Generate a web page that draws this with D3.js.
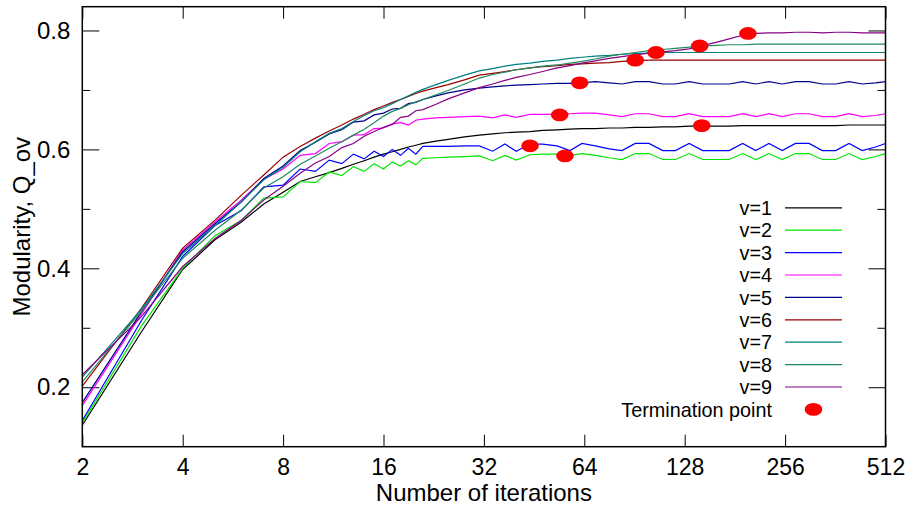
<!DOCTYPE html>
<html>
<head>
<meta charset="utf-8">
<script src="https://cdn.jsdelivr.net/npm/d3@7"></script>
<style>
  html, body { margin: 0; padding: 0; background: #fff; }
  svg text { font-family: "Liberation Sans", Arial, Helvetica, sans-serif; fill: #000; }
</style>
</head>
<body>
<svg id="chart" width="914" height="506"></svg>
<script>
// ---------------- data ----------------
const iterations = [2,3,4,5,6,7,8,9,10,11,
  12,13,14,15,16,17,18,19,20,21,
  23,25,28,31,34,37,40,44,48,53,
  58,63,69,76,83,91,100,110,120,132,
  145,159,174,191,209,229,251,275,302,331,
  363,398,436,478,512];

const seriesNames = ["v=1","v=2","v=3","v=4","v=5","v=6","v=7","v=8","v=9"];

const v1 = [0.136,0.292,0.398,0.448,0.478,0.508,0.528,0.546,0.554,0.561,
  0.568,0.575,0.581,0.587,0.592,0.596,0.600,0.604,0.607,0.610,
  0.614,0.617,0.621,0.624,0.626,0.628,0.629,0.630,0.632,0.633,
  0.634,0.635,0.635,0.636,0.636,0.637,0.637,0.638,0.638,0.639,
  0.639,0.639,0.639,0.640,0.640,0.640,0.640,0.640,0.640,0.640,
  0.640,0.641,0.641,0.641,0.641];
const v2 = [0.140,0.302,0.400,0.455,0.481,0.518,0.520,0.546,0.544,0.562,
  0.556,0.571,0.563,0.576,0.567,0.579,0.572,0.581,0.574,0.585,
  0.586,0.587,0.588,0.589,0.581,0.590,0.582,0.591,0.592,0.592,
  0.590,0.593,0.590,0.586,0.583,0.593,0.593,0.583,0.583,0.593,
  0.583,0.583,0.583,0.593,0.583,0.593,0.583,0.593,0.593,0.583,
  0.583,0.593,0.583,0.588,0.593];
const v3 = [0.144,0.311,0.420,0.472,0.497,0.537,0.540,0.567,0.563,0.582,
  0.576,0.592,0.584,0.597,0.588,0.600,0.590,0.602,0.592,0.605,
  0.605,0.605,0.606,0.606,0.597,0.609,0.597,0.609,0.609,0.606,
  0.598,0.610,0.606,0.601,0.598,0.610,0.610,0.598,0.598,0.610,
  0.598,0.598,0.598,0.610,0.598,0.610,0.598,0.610,0.610,0.598,
  0.598,0.610,0.598,0.604,0.610];
const v4 = [0.169,0.322,0.431,0.478,0.515,0.550,0.567,0.590,0.593,0.610,
  0.613,0.624,0.625,0.635,0.636,0.643,0.645,0.641,0.649,0.651,
  0.653,0.654,0.655,0.656,0.653,0.658,0.654,0.659,0.659,0.659,
  0.660,0.661,0.661,0.658,0.655,0.660,0.660,0.655,0.655,0.660,
  0.655,0.655,0.655,0.660,0.655,0.660,0.655,0.660,0.660,0.655,
  0.655,0.660,0.655,0.657,0.660];
const v5 = [0.174,0.326,0.428,0.475,0.512,0.551,0.572,0.598,0.612,0.626,
  0.633,0.646,0.648,0.658,0.661,0.668,0.669,0.677,0.679,0.684,
  0.690,0.695,0.700,0.703,0.705,0.707,0.708,0.709,0.710,0.711,
  0.711,0.712,0.714,0.712,0.710,0.714,0.714,0.710,0.710,0.714,
  0.710,0.710,0.710,0.714,0.710,0.714,0.710,0.714,0.714,0.710,
  0.710,0.714,0.710,0.712,0.714];
const v6 = [0.202,0.332,0.434,0.481,0.523,0.557,0.587,0.605,0.619,0.631,
  0.641,0.651,0.659,0.667,0.673,0.679,0.684,0.689,0.694,0.698,
  0.704,0.709,0.717,0.725,0.728,0.731,0.734,0.737,0.739,0.741,
  0.743,0.744,0.745,0.746,0.748,0.749,0.750,0.750,0.750,0.750,
  0.750,0.750,0.750,0.750,0.750,0.750,0.750,0.750,0.750,0.750,
  0.750,0.750,0.750,0.750,0.750];
const v7 = [0.217,0.330,0.425,0.472,0.512,0.549,0.570,0.596,0.613,0.627,
  0.635,0.647,0.657,0.665,0.670,0.677,0.684,0.690,0.696,0.701,
  0.709,0.716,0.725,0.732,0.736,0.740,0.743,0.745,0.748,0.750,
  0.753,0.755,0.757,0.758,0.760,0.761,0.762,0.763,0.763,0.763,
  0.763,0.763,0.763,0.763,0.763,0.763,0.763,0.763,0.763,0.763,
  0.763,0.763,0.763,0.763,0.763];
const v8 = [0.209,0.327,0.417,0.464,0.498,0.535,0.554,0.575,0.589,0.602,
  0.613,0.624,0.634,0.645,0.656,0.664,0.669,0.675,0.680,0.684,
  0.692,0.699,0.710,0.720,0.726,0.730,0.734,0.737,0.740,0.742,
  0.745,0.748,0.752,0.757,0.760,0.763,0.766,0.768,0.770,0.772,
  0.774,0.775,0.776,0.776,0.777,0.777,0.777,0.777,0.777,0.777,
  0.777,0.777,0.777,0.777,0.777];
const v9 = [0.221,0.318,0.403,0.450,0.481,0.515,0.538,0.560,0.577,0.588,
  0.603,0.610,0.622,0.630,0.637,0.642,0.654,0.656,0.665,0.667,
  0.676,0.685,0.695,0.704,0.710,0.716,0.721,0.726,0.731,0.737,
  0.741,0.745,0.749,0.753,0.756,0.759,0.762,0.764,0.766,0.769,
  0.775,0.780,0.786,0.792,0.795,0.796,0.796,0.797,0.797,0.796,
  0.797,0.797,0.796,0.796,0.796];

const terminationIter = [144, 56, 44, 54, 62, 91, 105, 142, 198];
const terminationQ    = [0.640, 0.589, 0.606, 0.658, 0.712, 0.750, 0.763, 0.774, 0.795];

const xTickValues = [2,4,8,16,32,64,128,256,512];
const yTickValues = [0.2,0.4,0.6,0.8];
const yMinorTicks = [0.3,0.5,0.7];

const seriesValues = [v1,v2,v3,v4,v5,v6,v7,v8,v9];
const colors = ["#000000","#00e600","#0000ff","#ff00ff","#00008b","#990000","#008080","#1f8a5e","#880088"];

// ---------------- layout ----------------
const svg = d3.select("#chart");
const L = 82.3, R = 885.5, T = 6.7, B = 446.7;

const xScale = d3.scaleLog().base(2).domain([2, 512]).range([L, R]);
const yScale = d3.scaleLinear().domain([0.1, 0.84]).range([B, T]);

const fs = 24;
const gBottom = svg.append("g").attr("transform", `translate(0,${B})`)
  .call(d3.axisBottom(xScale).tickValues(xTickValues).tickFormat(d3.format("d"))
    .tickSizeInner(-12).tickSizeOuter(0).tickPadding(11.5));
const gTop = svg.append("g").attr("transform", `translate(0,${T})`)
  .call(d3.axisTop(xScale).tickValues(xTickValues).tickFormat("")
    .tickSizeInner(-12).tickSizeOuter(0));
const gLeft = svg.append("g").attr("transform", `translate(${L},0)`)
  .call(d3.axisLeft(yScale).tickValues(yTickValues).tickFormat(d3.format(".1f"))
    .tickSizeInner(-17).tickSizeOuter(0).tickPadding(12));
const gLeftMinor = svg.append("g").attr("transform", `translate(${L},0)`)
  .call(d3.axisLeft(yScale).tickValues(yMinorTicks).tickFormat("")
    .tickSizeInner(-8).tickSizeOuter(0));
const gRight = svg.append("g").attr("transform", `translate(${R},0)`)
  .call(d3.axisRight(yScale).tickValues(yTickValues).tickFormat("")
    .tickSizeInner(-17).tickSizeOuter(0));
const gRightMinor = svg.append("g").attr("transform", `translate(${R},0)`)
  .call(d3.axisRight(yScale).tickValues(yMinorTicks).tickFormat("")
    .tickSizeInner(-8).tickSizeOuter(0));

[gBottom, gTop, gLeft, gLeftMinor, gRight, gRightMinor].forEach(g => {
  g.select(".domain").remove();
  g.selectAll(".tick line").attr("stroke", "#000").attr("stroke-width", 1);
  g.selectAll(".tick text").attr("font-size", fs)
    .attr("font-family", "'Liberation Sans', Arial, sans-serif").attr("fill", "#000");
});
gBottom.selectAll(".tick text").attr("font-size", 23);

// series lines
const lineGen = d3.line()
  .x((d, i) => xScale(iterations[i]))
  .y(d => yScale(d));

const plot = svg.append("g");
seriesValues.forEach((vals, k) => {
  plot.append("path")
    .datum(vals)
    .attr("fill", "none")
    .attr("stroke", colors[k])
    .attr("stroke-width", 1.2)
    .attr("d", lineGen);
});

// termination points
svg.append("g").selectAll("ellipse")
  .data(terminationIter)
  .join("ellipse")
  .attr("cx", d => xScale(d))
  .attr("cy", (d, i) => yScale(terminationQ[i]))
  .attr("rx", 8.8)
  .attr("ry", 6.4)
  .attr("fill", "#ff0000");

// frame
svg.append("rect")
  .attr("x", L).attr("y", T)
  .attr("width", R - L).attr("height", B - T)
  .attr("fill", "none").attr("stroke", "#000").attr("stroke-width", 1.5);

// axis titles
svg.append("text")
  .attr("x", (L + R) / 2).attr("y", 501)
  .attr("text-anchor", "middle")
  .attr("font-size", fs)
  .text("Number of iterations");

svg.append("text")
  .attr("transform", `translate(30,${(T + B) / 2}) rotate(-90)`)
  .attr("text-anchor", "middle")
  .attr("font-size", fs)
  .text("Modularity, Q_ov");

// legend
const legend = svg.append("g");
const legendTop = 207.8, legendStep = 22.4, legendFont = 19.8;
const textRight = 772, lineX1 = 785, lineX2 = 842;
seriesNames.forEach((name, k) => {
  const yy = legendTop + k * legendStep;
  legend.append("text")
    .attr("x", textRight).attr("y", yy).attr("dy", "0.36em")
    .attr("text-anchor", "end").attr("font-size", legendFont)
    .text(name);
  legend.append("line")
    .attr("x1", lineX1).attr("x2", lineX2)
    .attr("y1", yy).attr("y2", yy)
    .attr("stroke", colors[k]).attr("stroke-width", 1.2);
});
const termY = legendTop + 9 * legendStep;
legend.append("text")
  .attr("x", textRight).attr("y", termY).attr("dy", "0.36em")
  .attr("text-anchor", "end").attr("font-size", legendFont)
  .text("Termination point");
legend.append("ellipse")
  .attr("cx", (lineX1 + lineX2) / 2).attr("cy", termY)
  .attr("rx", 8.8).attr("ry", 6.4)
  .attr("fill", "#ff0000");
</script>
</body>
</html>
